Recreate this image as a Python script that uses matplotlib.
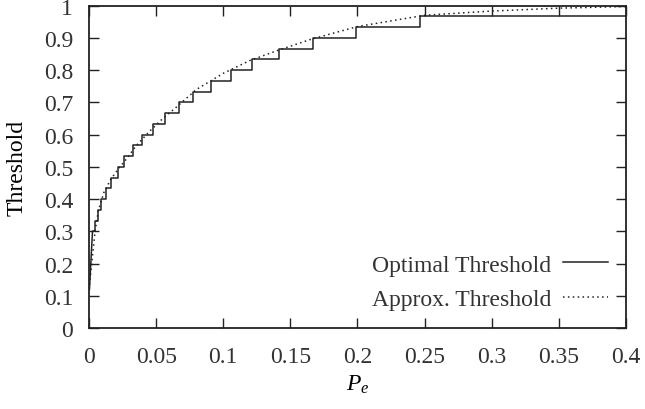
import matplotlib
matplotlib.use("Agg")
import matplotlib.pyplot as plt

# optimal threshold: step positions (P_e) and levels
step_x = [0.0003, 0.0026, 0.0043, 0.0066, 0.0089, 0.0123, 0.0166, 0.0215, 0.0264,
          0.0324, 0.0395, 0.0476, 0.0565, 0.0668, 0.0776, 0.0908, 0.1057, 0.1217,
          0.1418, 0.1671, 0.1990, 0.2466, 0.4]
step_y = [0.12, 0.3, 0.3333, 0.3667, 0.4, 0.4333, 0.4667, 0.5, 0.5333,
          0.5667, 0.6, 0.6333, 0.6667, 0.7, 0.7333, 0.7667, 0.8, 0.8333,
          0.8667, 0.9, 0.9333, 0.9667, 0.9667]

# approximate threshold curve
approx_x = [0.0, 0.001, 0.002, 0.0045, 0.007, 0.011, 0.016, 0.022, 0.028, 0.035,
            0.045, 0.055, 0.065, 0.08, 0.1, 0.12, 0.14, 0.165, 0.2, 0.25, 0.3,
            0.35, 0.4]
approx_y = [0.12, 0.16, 0.2, 0.3, 0.365, 0.42, 0.46, 0.495, 0.525, 0.565,
            0.61, 0.65, 0.685, 0.74, 0.79, 0.83, 0.86, 0.895, 0.935, 0.97, 0.983,
            0.992, 0.997]

plt.rcParams.update({
    "font.family": ["Liberation Serif", "DejaVu Serif"],
    "font.size": 17,
    "mathtext.fontset": "custom",
    "mathtext.it": "Liberation Serif:italic",
    "mathtext.rm": "Liberation Serif",
    "text.color": "#333333",
    "xtick.color": "#222222",
    "ytick.color": "#222222",
})

fig = plt.figure(figsize=(6.45, 4.10), dpi=100)
ax = fig.add_axes([0.138, 0.197, 0.8325, 0.787])

lc = "#222222"
# first sample rises steeply from the origin, then the staircase
ax.plot(step_x[:2], step_y[:2], color=lc, lw=1.1)
ax.plot(step_x[1:], step_y[1:], drawstyle="steps-post", color=lc, lw=1.1,
        label="Optimal Threshold")
ax.plot(approx_x, approx_y, color=lc, lw=1.1, linestyle=(0, (1, 2.2)),
        label="Approx. Threshold")

ax.set_xlim(0, 0.4)
ax.set_ylim(0, 1)
ax.set_xticks([0, 0.05, 0.1, 0.15, 0.2, 0.25, 0.3, 0.35, 0.4])
ax.set_xticklabels(["0", "0.05", "0.1", "0.15", "0.2", "0.25", "0.3", "0.35", "0.4"])
ax.set_yticks([i / 10 for i in range(11)])
ax.set_yticklabels(["0", "0.1", "0.2", "0.3", "0.4", "0.5", "0.6", "0.7", "0.8", "0.9", "1"])
ax.tick_params(direction="in", length=7, width=1, top=True, right=True,
               labelcolor="#333333")
ax.tick_params(axis="x", pad=13)
ax.tick_params(axis="y", pad=11.5)
for s in ax.spines.values():
    s.set_linewidth(1.3)
    s.set_color(lc)

ax.set_xlabel("$P_e$", labelpad=4)
ax.set_ylabel("Threshold", labelpad=11.5)

ax.legend(loc="lower right", bbox_to_anchor=(0.993, 0.012), frameon=False,
          markerfirst=False, handlelength=1.9, handletextpad=0.5,
          labelspacing=0.55, borderaxespad=0.2)

fig.savefig("out.png", dpi=100)
